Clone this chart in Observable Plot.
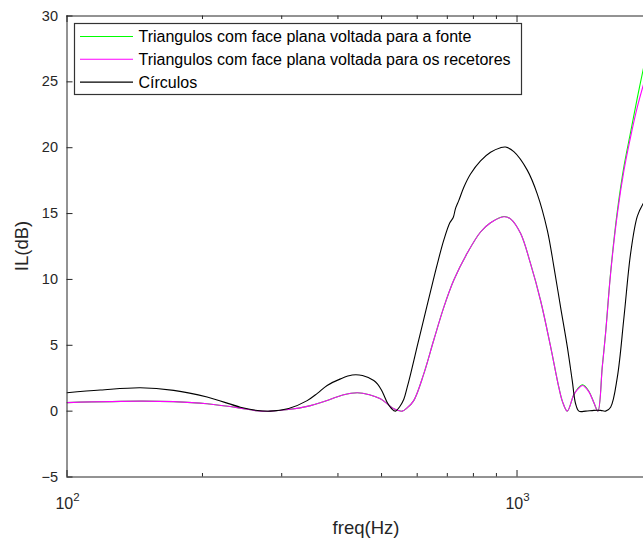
<!DOCTYPE html>
<html>
<head>
<meta charset="utf-8">
<script src="https://cdn.jsdelivr.net/npm/d3@7"></script>
<script src="https://cdn.jsdelivr.net/npm/@observablehq/plot@0.6"></script>
<style>
  html, body { margin: 0; padding: 0; background: #fff; }
  #chart svg { display: block; }
</style>
</head>
<body>
<div id="chart"></div>
<script>
// Insertion loss vs frequency for three barrier shapes

// Triangles (both orientations share the same frequency grid)
const freqTriangulos = [100, 145.5, 172.6, 204.8, 242.8, 262.3, 283, 310.9, 341.7, 378.5, 410, 441.3, 470, 497.1, 515,
  532.3, 555.7, 570, 589.5, 620.8, 653.1, 687.7, 723.7, 775.2, 829.7, 873.3, 934.9, 967.2, 1018.1, 1071.6,
  1128, 1187.4, 1238.6, 1262.5, 1293.2, 1335.5, 1363.3, 1398.6, 1442.2, 1479.7, 1512.6, 1546.9, 1573.3,
  1614.3, 1671, 1728.6, 1788.6, 1850.9, 1910];
const ilFonte = [0.65, 0.76, 0.72, 0.56, 0.23, 0.04, 0, 0.12, 0.36, 0.81, 1.22, 1.4, 1.25, 0.94, 0.55,
  0.18, 0, 0.25, 0.8, 2.85, 5.4, 7.9, 9.95, 12.0, 13.6, 14.3, 14.78, 14.6, 13.5, 11.2,
  8.4, 4.9, 1.8, 0.7, 0, 1.2, 1.7, 2.0, 1.55, 0.7, 0, 3.4, 5.95,
  10.55, 15.2, 18.6, 21.2, 23.8, 26.05];
const ilRecetores = [0.65, 0.76, 0.72, 0.56, 0.23, 0.04, 0, 0.12, 0.36, 0.81, 1.22, 1.4, 1.25, 0.94, 0.55,
  0.18, 0, 0.25, 0.8, 2.85, 5.4, 7.9, 9.95, 12.0, 13.6, 14.3, 14.76, 14.6, 13.5, 11.2,
  8.4, 4.9, 1.8, 0.7, 0, 1.2, 1.65, 1.95, 1.5, 0.7, 0, 3.35, 5.9,
  10.45, 15.0, 18.3, 20.85, 23.1, 24.8];

// Circles
const freqCirculos = [100, 118.6, 145.5, 172.6, 204.8, 242.8, 262.3, 283, 310.9, 341.7, 360, 378.5, 405.3, 430.2,
  453.4, 480.4, 490, 499.7, 507, 514.4, 526, 537, 549, 560.3, 570, 579.9, 600.1, 620.8, 642.4, 664.8,
  687.7, 709, 721.5, 730.1, 742.5, 761.7, 788.3, 829.7, 873.3, 919.1, 942.9, 983.8, 1053.7, 1108.9,
  1167.4, 1207.6, 1249.6, 1293.2, 1326.7, 1349.4, 1372.5, 1420.4, 1481.8, 1533.5, 1573.3, 1614.3, 1671,
  1728.6, 1788.6, 1850.9, 1910];
const ilCirculos = [1.4, 1.6, 1.78, 1.58, 1.07, 0.3, 0.07, 0, 0.2, 0.8, 1.35, 1.95, 2.45, 2.74,
  2.7, 2.33, 2.05, 1.6, 1.15, 0.68, 0.2, 0, 0.35, 0.9, 1.8, 2.8, 4.93, 7.0, 9.1, 11.15,
  13.0, 14.3, 14.7, 15.4, 16.0, 17.0, 18.0, 19.0, 19.65, 20.0, 20.05, 19.7, 18.3, 16.5,
  13.75, 10.96, 7.9, 4.9, 2.3, 0.56, 0, 0, 0.06, 0.06, 0, 0.3, 2.6,
  7.15, 12.0, 14.8, 15.8];

const yTicks = [-5, 0, 5, 10, 15, 20, 25, 30];
const xMajor = [100, 1000];
const xMajorExp = ["2", "3"];
const xMinor = [200, 300, 400, 500, 600, 700, 800, 900];

const seriesNames = [
  "Triangulos com face plana voltada para a fonte",
  "Triangulos com face plana voltada para os recetores",
  "Círculos"
];
const seriesColors = ["#00ff00", "#ff00ff", "#000000"];

const tri = freqTriangulos.map((f, i) => ({f, fonte: ilFonte[i], recetores: ilRecetores[i]}));
const circ = freqCirculos.map((f, i) => ({f, v: ilCirculos[i]}));

const W = 643, H = 540;
const mL = 66.5, mR = 0, mT = 15.5, mB = 63.5;
const plotW = W - mL - mR, plotH = H - mT - mB;
const axisColor = "#262626";
const font = "'Liberation Sans', Arial, Helvetica, sans-serif";
const curve = "catmull-rom";

const chart = Plot.plot({
  width: W,
  height: H,
  marginLeft: mL,
  marginRight: mR,
  marginTop: mT,
  marginBottom: mB,
  style: {fontFamily: font, fontSize: "14.5px", color: axisColor, background: "#fff"},
  x: {type: "log", domain: [100, 1910]},
  y: {domain: [-5, 30]},
  marks: [
    // curves
    Plot.line(tri, {x: "f", y: "fonte", stroke: seriesColors[0], strokeWidth: 1.1, curve, clip: true}),
    Plot.line(tri, {x: "f", y: "recetores", stroke: seriesColors[1], strokeWidth: 1.1, curve, clip: true}),
    Plot.line(circ, {x: "f", y: "v", stroke: seriesColors[2], strokeWidth: 1.1, curve, clip: true}),
    // axes box (left, bottom, top)
    Plot.ruleX([100], {stroke: axisColor, strokeWidth: 1}),
    Plot.ruleY([-5, 30], {stroke: axisColor, strokeWidth: 1}),
    // inward y ticks
    Plot.tickY(yTicks, {y: d => d, stroke: axisColor, insetRight: plotW - 6}),
    // inward x ticks, bottom and top
    Plot.tickX(xMajor, {x: d => d, stroke: axisColor, insetTop: plotH - 6.5}),
    Plot.tickX(xMajor, {x: d => d, stroke: axisColor, insetBottom: plotH - 6.5}),
    Plot.tickX(xMinor, {x: d => d, stroke: axisColor, insetTop: plotH - 3.5}),
    Plot.tickX(xMinor, {x: d => d, stroke: axisColor, insetBottom: plotH - 3.5}),
    // y tick labels
    Plot.axisY(yTicks, {tickSize: 0, tickPadding: 9, label: null, fontSize: 14.5}),
    Plot.axisX([], {label: null, tickSize: 0})
  ]
});

document.getElementById("chart").appendChild(chart);

const svg = d3.select(chart);
const xs = chart.scale("x");

// x tick labels with superscript exponent
const xl = svg.append("g")
  .attr("font-family", font)
  .attr("fill", axisColor);
xMajor.forEach((v, i) => {
  const t = xl.append("text")
    .attr("x", xs.apply(v) + 1)
    .attr("y", 508.5)
    .attr("text-anchor", "middle")
    .attr("font-size", "16px");
  t.append("tspan").text("10");
  t.append("tspan").attr("dy", -7.5).attr("font-size", "11.5px").text(xMajorExp[i]);
});

// axis titles
svg.append("text")
  .attr("x", 366)
  .attr("y", 534)
  .attr("text-anchor", "middle")
  .attr("font-family", font)
  .attr("font-size", "18.5px")
  .attr("fill", axisColor)
  .text("freq(Hz)");

svg.append("text")
  .attr("transform", "translate(28,246) rotate(-90)")
  .attr("text-anchor", "middle")
  .attr("font-family", font)
  .attr("font-size", "18.5px")
  .attr("fill", axisColor)
  .text("IL(dB)");

// legend box
const lg = svg.append("g");
lg.append("rect")
  .attr("x", 74.5).attr("y", 23.5)
  .attr("width", 447).attr("height", 71)
  .attr("fill", "#fff")
  .attr("stroke", "#333")
  .attr("stroke-width", 1.2);
seriesNames.forEach((name, i) => {
  const cy = 36.5 + i * 22.8;
  lg.append("line")
    .attr("x1", 80).attr("x2", 133)
    .attr("y1", cy).attr("y2", cy)
    .attr("stroke", seriesColors[i])
    .attr("stroke-width", 1.1);
  lg.append("text")
    .attr("x", 138.5).attr("y", cy)
    .attr("dy", "0.35em")
    .attr("text-anchor", "start")
    .attr("font-family", font)
    .attr("font-size", "16px")
    .attr("fill", "#000")
    .text(name);
});
</script>
</body>
</html>
